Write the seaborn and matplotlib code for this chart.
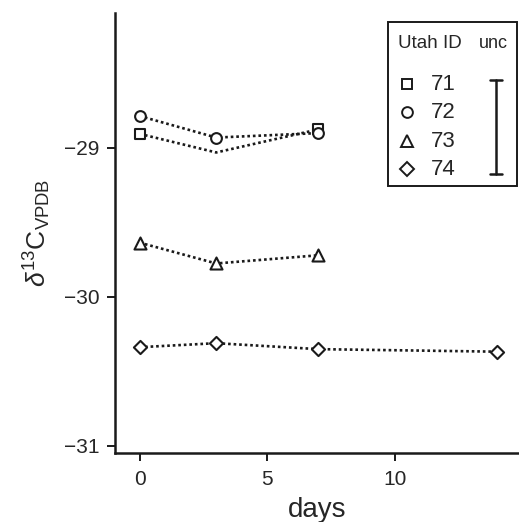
import numpy as np
import pandas as pd
import matplotlib
matplotlib.use("Agg")
import matplotlib.pyplot as plt
import seaborn as sns
from matplotlib.patches import Rectangle

# data
days_71 = [0, 3, 7]
d13c_71 = [-28.905, -29.03, -28.875]
marker_71 = [True, False, True]  # no symbol drawn at day 3 in the original
days_72 = [0, 3, 7]
d13c_72 = [-28.785, -28.93, -28.90]
days_73 = [0, 3, 7]
d13c_73 = [-29.635, -29.775, -29.72]
days_74 = [0, 3, 7, 14]
d13c_74 = [-30.337, -30.31, -30.35, -30.367]

ids = ["71", "72", "73", "74"]
markers = {"71": "s", "72": "o", "73": "^", "74": "D"}
sizes = {"71": 55, "72": 60, "73": 75, "74": 45}
unc = 0.315  # +/- shown in legend

rows = []
for sid, dd, vv, mm in [("71", days_71, d13c_71, marker_71),
                        ("72", days_72, d13c_72, [True] * 3),
                        ("73", days_73, d13c_73, [True] * 3),
                        ("74", days_74, d13c_74, [True] * 4)]:
    for d, v, m in zip(dd, vv, mm):
        rows.append({"id": sid, "days": d, "d13C": v, "show": m})
df = pd.DataFrame(rows)

sns.set_style("ticks")
plt.rcParams["font.family"] = ["Liberation Sans", "DejaVu Sans"]
plt.rcParams["mathtext.fontset"] = "custom"
plt.rcParams["mathtext.rm"] = "Liberation Sans"
plt.rcParams["mathtext.it"] = "Liberation Sans:italic"

INK = "#1a1a1a"
W, H = 519, 522
fig = plt.figure(figsize=(W / 100, H / 100), dpi=100)
ax = fig.add_axes([115 / W, (H - 453) / H, (519 - 115) / W, (453 - 13) / H])

for sid in ids:
    sub = df[df["id"] == sid]
    sns.lineplot(data=sub, x="days", y="d13C", ax=ax, color=INK,
                 linestyle=(0, (1, 1.1)), linewidth=1.9, legend=False)
    pts = sub[sub["show"]]
    sns.scatterplot(data=pts, x="days", y="d13C", ax=ax, marker=markers[sid],
                    s=sizes[sid], facecolor="white",
                    edgecolor=INK, linewidth=1.5, zorder=3, legend=False)

ax.set_xlim(-0.96, 14.85)
ax.set_ylim(-31.047, -28.094)
ax.set_xticks([0, 5, 10])
ax.set_yticks([-31, -30, -29])
ax.tick_params(axis="both", labelsize=15, length=6, width=1.4, color=INK)
ax.tick_params(axis="x", pad=6)
ax.tick_params(axis="y", pad=5)
for s in ["top", "right"]:
    ax.spines[s].set_visible(False)
for s in ["left", "bottom"]:
    ax.spines[s].set_linewidth(1.8)
    ax.spines[s].set_color(INK)
ax.set_xlabel("days", fontsize=20, labelpad=6)
ax.set_ylabel(r"$\delta^{13}\mathrm{C}_{\mathrm{VPDB}}$", fontsize=19, labelpad=8)

# legend drawn by hand
def fx(px):
    return px / W
def fy(py):
    return 1 - py / H

fig.patches.append(Rectangle((fx(388), fy(186)), fx(517) - fx(388), fy(22) - fy(186),
                             transform=fig.transFigure, fill=False,
                             edgecolor=INK, linewidth=1.4))
fig.text(fx(398), fy(44), "Utah ID", fontsize=13.5, va="center", ha="left")
fig.text(fx(479), fy(44), "unc", fontsize=13, va="center", ha="left")
leg_y = [84, 112, 141, 169]
for sid, py in zip(ids, leg_y):
    fig.lines.append(plt.Line2D([fx(407)], [fy(py)], transform=fig.transFigure,
                                marker=markers[sid], markersize=np.sqrt(sizes[sid]),
                                markerfacecolor="white", markeredgecolor=INK,
                                markeredgewidth=1.4, linestyle="none"))
    fig.text(fx(431), fy(py), sid, fontsize=16, va="center", ha="left")

# uncertainty bar, scaled with the data axis
px_per_unit = 149
half = unc * px_per_unit
cy = 127
fig.lines.append(plt.Line2D([fx(496), fx(496)], [fy(cy - half), fy(cy + half)],
                            transform=fig.transFigure, color=INK, linewidth=1.8))
for yy in [cy - half, cy + half]:
    fig.lines.append(plt.Line2D([fx(490), fx(502)], [fy(yy), fy(yy)],
                                transform=fig.transFigure, color=INK, linewidth=1.8))

fig.savefig("out.png", dpi=100)
